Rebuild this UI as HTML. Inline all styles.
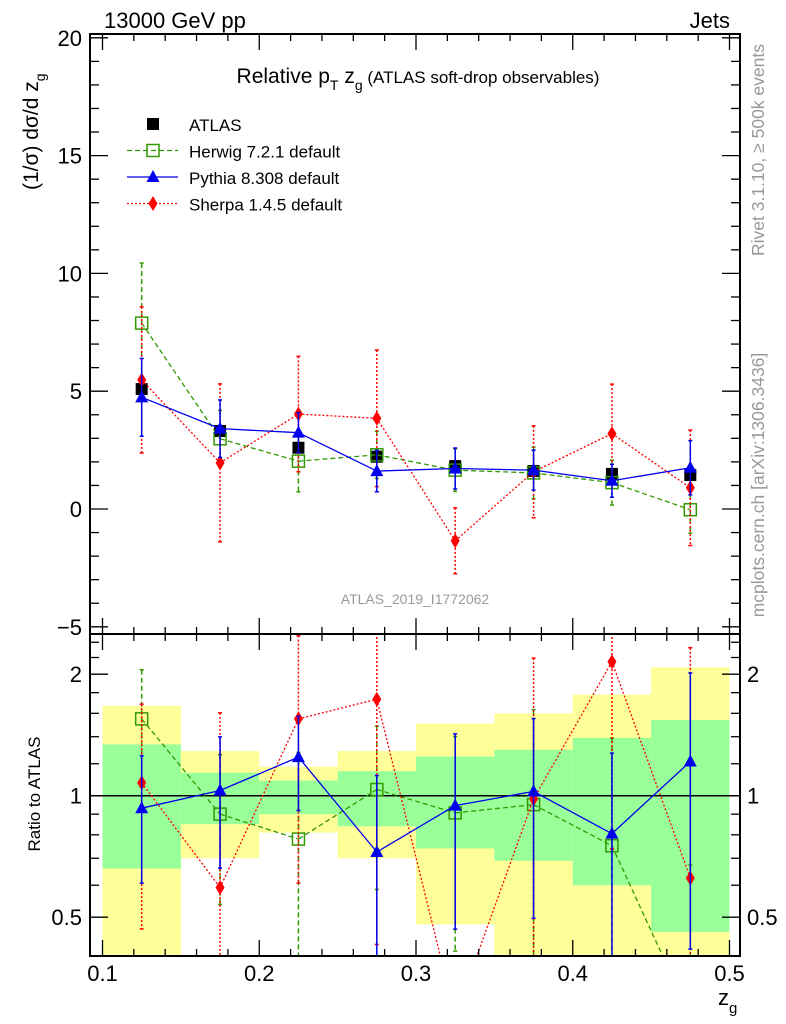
<!DOCTYPE html>
<html><head><meta charset="utf-8"><style>
html,body{margin:0;padding:0;background:#fff;width:786px;height:1024px;overflow:hidden;}
svg{display:block;font-family:"Liberation Sans",sans-serif;}
</style></head><body>
<svg id="c" width="786" height="1024" xmlns="http://www.w3.org/2000/svg">
<text x="104" y="28" font-size="22">13000 GeV pp</text>
<text x="730" y="28" font-size="22" text-anchor="end">Jets</text>
<text x="418" y="83" font-size="21" text-anchor="middle">Relative p<tspan font-size="14" dy="7">T</tspan><tspan dy="-7"> z</tspan><tspan font-size="14" dy="7">g</tspan><tspan dy="-7" font-size="17"> (ATLAS soft-drop observables)</tspan></text>
<text x="415" y="604" font-size="14" fill="#999" text-anchor="middle">ATLAS_2019_I1772062</text>
<text transform="translate(38,190) rotate(-90)" font-size="21">(1/σ) dσ/d z<tspan font-size="14" dy="7">g</tspan></text>
<text transform="translate(40,794) rotate(-90)" font-size="17" text-anchor="middle">Ratio to ATLAS</text>
<text x="718" y="1005" font-size="22">z<tspan font-size="15" dy="8">g</tspan></text>
<text transform="translate(764,150) rotate(-90)" font-size="17.5" fill="#999" text-anchor="middle">Rivet 3.1.10, ≥ 500k events</text>
<text transform="translate(764,485) rotate(-90)" font-size="17.5" fill="#999" text-anchor="middle">mcplots.cern.ch [arXiv:1306.3436]</text>
</svg>
<script>
const binCenters=[0.125,0.175,0.225,0.275,0.325,0.375,0.425,0.475];
const binEdges=[0.1,0.15,0.2,0.25,0.3,0.35,0.4,0.45,0.5];
const atlasVals=[5.09,3.31,2.60,2.22,1.82,1.61,1.49,1.44];
const herwigVals=[7.89,2.98,2.03,2.30,1.65,1.53,1.12,-0.03];
const herwigErr=[2.55,1.2,1.3,1.0,0.9,1.1,0.95,1.0];
const pythiaVals=[4.74,3.41,3.24,1.61,1.72,1.65,1.20,1.75];
const pythiaErr=[1.65,1.22,0.85,0.88,0.87,0.85,0.7,1.15];
const sherpaVals=[5.48,1.96,4.03,3.85,-1.35,1.58,3.2,0.90];
const sherpaErr=[3.1,3.35,2.45,2.9,1.4,1.95,2.1,2.45];
const yellowHi=[1.67,1.29,1.18,1.29,1.51,1.60,1.78,2.08];
const yellowLo=[0.3,0.70,0.81,0.70,0.48,0.3,0.3,0.3];
const greenHi=[1.34,1.14,1.09,1.15,1.25,1.30,1.39,1.54];
const greenLo=[0.66,0.85,0.90,0.84,0.74,0.69,0.60,0.46];
const xTicks=[0.1,0.2,0.3,0.4,0.5];
const yTicksMain=[-5,0,5,10,15,20];
const yTicksRatio=[0.5,1,2];

const NS="http://www.w3.org/2000/svg";
const svg=document.getElementById('c');
const L=90,R=740,MT=34,MB=634,RB=956;
const X=v=>102.5+(v-0.1)*(627/0.4);
const Y=v=>509-v*23.56;
const YR0=v=>795.7-Math.log2(v)*121.5;
const YR=v=>Math.min(Math.max(YR0(v),MB-5),RB+5);
function el(t,a,p){const e=document.createElementNS(NS,t);for(const k in a)e.setAttribute(k,a[k]);(p||svg).appendChild(e);return e;}
function txt(s,a,p){const e=el('text',a,p);e.textContent=s;return e;}

const defs=el('defs',{});
const cp1=el('clipPath',{id:'cm'},defs);el('rect',{x:L,y:MT,width:R-L,height:MB-MT},cp1);
const cp2=el('clipPath',{id:'cr'},defs);el('rect',{x:L,y:MB,width:R-L,height:RB-MB},cp2);

const gR=el('g',{'clip-path':'url(#cr)'});


for(let i=0;i<binCenters.length;i++){
  const r=el('rect',{x:X(binEdges[i]),y:YR(yellowHi[i]),width:X(binEdges[i+1])-X(binEdges[i]),height:YR(yellowLo[i])-YR(yellowHi[i]),fill:'#ffff99'},gR);
  
  
  const g=el('rect',{x:X(binEdges[i]),y:YR(greenHi[i]),width:X(binEdges[i+1])-X(binEdges[i]),height:YR(greenLo[i])-YR(greenHi[i]),fill:'#99ff99'},gR);
  
  
}
el('line',{x1:L,x2:R,y1:YR(1),y2:YR(1),stroke:'#000','stroke-width':1.5},gR);

const gM=el('g',{'clip-path':'url(#cm)'});



function marker(g,kind,x,y,col){
  if(kind==='sq')el('rect',{x:x-6,y:y-6,width:12,height:12,fill:'#000'},g);
  if(kind==='osq')el('rect',{x:x-6,y:y-6,width:12,height:12,fill:'none',stroke:col,'stroke-width':1.5},g);
  if(kind==='tri')el('polygon',{points:`${x},${y-7} ${x-6.5},${y+5} ${x+6.5},${y+5}`,fill:col},g);
  if(kind==='dia')el('polygon',{points:`${x},${y-7.5} ${x-4.5},${y} ${x},${y+7.5} ${x+4.5},${y}`,fill:col},g);
}
function series(g,name,vals,errs,Yf,col,dash,kind,ratio){
  const s=el('g',{},g);
  
  
  const pts=[],raw=[];
  for(let i=0;i<vals.length;i++){
    let v=vals[i],e=errs?errs[i]:0;
    if(ratio){e=e/atlasVals[i];v=v/atlasVals[i];}
    const yv=ratio?(v>0?YR0(v):RB+60):Yf(v);
    raw.push(yv);
    pts.push(X(binCenters[i])+','+yv);
    if(errs){
      const lo=v-e,hi=v+e;
      const y1=ratio?YR(hi):Yf(hi), y2=ratio?(lo>0?YR(lo):RB+5):Yf(lo);
      el('line',{x1:X(binCenters[i]),x2:X(binCenters[i]),y1:y1,y2:y2,stroke:col,'stroke-width':1.5,'stroke-dasharray':dash},s);
      el('line',{x1:X(binCenters[i])-2,x2:X(binCenters[i])+2,y1:y1,y2:y1,stroke:col,'stroke-width':1.5},s);
      el('line',{x1:X(binCenters[i])-2,x2:X(binCenters[i])+2,y1:y2,y2:y2,stroke:col,'stroke-width':1.5},s);
    }
  }
  if(kind!=='sq'){
    // draw segments, clipping out-of-range parts to panel bottom
    for(let i=0;i<vals.length-1;i++){
      let x1=X(binCenters[i]),y1=raw[i],x2=X(binCenters[i+1]),y2=raw[i+1];
      const lim=RB+2;
      if(y1>lim&&y2>lim)continue;
      if(y1>lim){x1=x1+(x2-x1)*(y1-lim)/(y1-y2);y1=lim;}
      if(y2>lim){x2=x1+(x2-x1)*(lim-y1)/(y2-y1);y2=lim;}
      el('line',{x1:x1,y1:y1,x2:x2,y2:y2,stroke:col,'stroke-width':1.3,'stroke-dasharray':dash},s);
    }
  }
  for(let i=0;i<vals.length;i++){if(raw[i]<RB+5){const p=pts[i].split(',');marker(s,kind,+p[0],+p[1],col);}}
}
series(gM,'atlas-data',atlasVals,null,Y,'#000','','sq',false);
series(gM,'herwig-series',herwigVals,herwigErr,Y,'#339900','5,3','osq',false);
series(gM,'sherpa-series',sherpaVals,sherpaErr,Y,'#ff0000','2,2','dia',false);
series(gM,'pythia-series',pythiaVals,pythiaErr,Y,'#0000ee','','tri',false);
series(gR,'herwig-ratio',herwigVals,herwigErr,YR0,'#339900','5,3','osq',true);
series(gR,'sherpa-ratio',sherpaVals,sherpaErr,YR0,'#ff0000','2,2','dia',true);
series(gR,'pythia-ratio',pythiaVals,pythiaErr,YR0,'#0000ee','','tri',true);

el('rect',{x:L,y:MT,width:R-L,height:MB-MT,fill:'none',stroke:'#000','stroke-width':2});
el('rect',{x:L,y:MB,width:R-L,height:RB-MB,fill:'none',stroke:'#000','stroke-width':2});

for(let v=0.1;v<=0.5001;v+=0.02){
  const major=Math.abs(v*10-Math.round(v*10))<1e-6;
  const x=X(v),len=major?16:7;
  [[MB,-1],[MT,1],[RB,-1],[MB,1]].forEach(([y,d])=>el('line',{x1:x,x2:x,y1:y,y2:y+d*len,stroke:'#000','stroke-width':1.3}));
}
xTicks.forEach(v=>{const t=txt(v.toFixed(1),{x:X(v),y:981,'font-size':22,'text-anchor':'middle'});
});
for(let v=-5;v<=20;v++){
  const len=v%5===0?18:9;
  el('line',{x1:L,x2:L+len,y1:Y(v),y2:Y(v),stroke:'#000','stroke-width':1.3});
  el('line',{x1:R,x2:R-len,y1:Y(v),y2:Y(v),stroke:'#000','stroke-width':1.3});
}
yTicksMain.forEach(v=>{const t=txt(v<0?'\u2212'+(-v):String(v),{x:82,y:Y(v)+8,'font-size':22,'text-anchor':'end'});
});
const minors=[0.5,0.6,0.7,0.8,0.9,1,1.2,1.4,1.6,1.8,2,2.2,2.4];
minors.forEach(v=>{const len=yTicksRatio.includes(v)?18:9;
  el('line',{x1:L,x2:L+len,y1:YR0(v),y2:YR0(v),stroke:'#000','stroke-width':1.3});
  el('line',{x1:R,x2:R-len,y1:YR0(v),y2:YR0(v),stroke:'#000','stroke-width':1.3});});
yTicksRatio.forEach(v=>{
  const a=txt(String(v),{x:82,y:YR0(v)+8,'font-size':22,'text-anchor':'end'});
  
  const b=txt(String(v),{x:747,y:YR0(v)+8,'font-size':22});
  });

const lg=el('g',{});


const legNames=['ATLAS','Herwig 7.2.1 default','Pythia 8.308 default','Sherpa 1.4.5 default'];
const legStyle=[['#000','','sq'],['#339900','5,3','osq'],['#0000ee','','tri'],['#ff0000','2,2','dia']];
legNames.forEach((n,i)=>{
  const y=124+i*26.5;
  const g=el('g',{},lg);
  
  
  if(i>0)el('line',{x1:127,x2:178,y1:y,y2:y,stroke:legStyle[i][0],'stroke-width':1.3,'stroke-dasharray':legStyle[i][1]},g);
  marker(g,legStyle[i][2],153,y,legStyle[i][0]);
  txt(n,{x:189,y:y+7,'font-size':17},g);
});
</script>
</body></html>
